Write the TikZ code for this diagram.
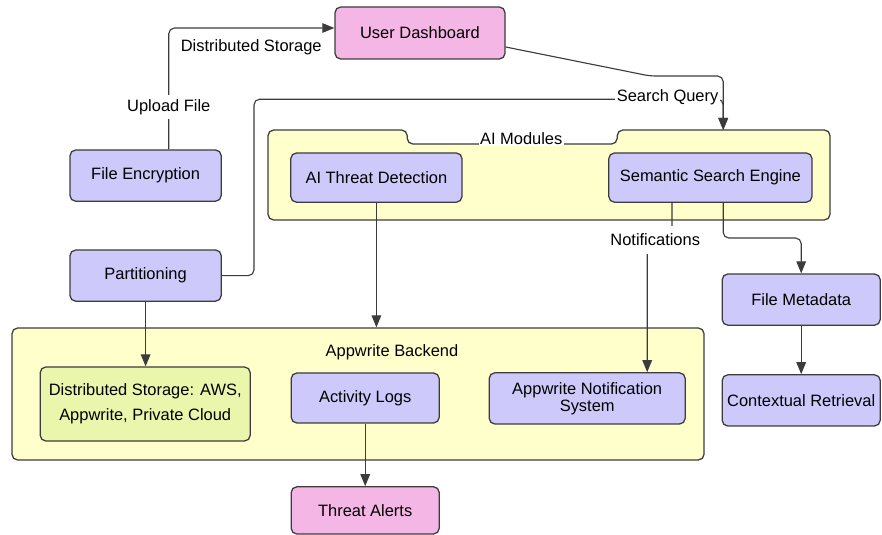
\documentclass[tikz,border=0pt]{standalone}
\usepackage{fontspec}
\setmainfont{Liberation Sans}
\usetikzlibrary{arrows.meta}
\definecolor{lavender}{RGB}{205,201,250}
\definecolor{pinkfill}{RGB}{244,182,228}
\definecolor{paleyellow}{RGB}{255,255,204}
\definecolor{palegreen}{RGB}{233,246,172}
\definecolor{edgegray}{RGB}{60,60,60}
\begin{document}
\begin{tikzpicture}[
  font=\fontsize{11.7}{14}\selectfont,
  block/.style={draw=edgegray, line width=0.9pt, rounded corners=4pt, fill=lavender, align=center, inner sep=0pt},
  group/.style={draw=edgegray, line width=0.9pt, rounded corners=4pt, fill=paleyellow},
  flow/.style={draw=edgegray, line width=0.8pt, rounded corners=4pt, -{Triangle[length=0.3cm,width=0.24cm]}},
  tag/.style={fill=white, inner sep=1pt}
]
\useasboundingbox (0,0) rectangle (22.05,-13.375);
\draw[group] (6.7,-5.5) -- (6.7,-3.25) -- (10.18,-3.25) -- (10.18,-3.6) -- (15.43,-3.6) -- (15.43,-3.25) -- (20.75,-3.25) -- (20.75,-5.5) -- cycle;
\node[tag, inner ysep=0.5pt] (aim) at (13.03,-3.47) {AI Modules};
\node[group, minimum width=17.3cm, minimum height=3.3cm] (ab) at (8.95,-9.85) {};
\node (abl) at (9.8,-8.8) {Appwrite Backend};
\node[block, fill=pinkfill, minimum width=4.25cm, minimum height=1.3cm] (ud) at (10.5,-0.825) {User Dashboard};
\node[block, minimum width=3.78cm, minimum height=1.28cm] (fe) at (3.64,-4.39) {File Encryption};
\node[block, minimum width=3.78cm, minimum height=1.28cm] (part) at (3.64,-6.89) {Partitioning};
\node[block, minimum width=4.28cm, minimum height=1.23cm] (atd) at (9.41,-4.44) {AI Threat Detection};
\node[block, minimum width=5.08cm, minimum height=1.23cm] (sse) at (17.76,-4.44) {Semantic Search Engine};
\node[block, minimum width=3.95cm, minimum height=1.28cm] (fm) at (20.03,-7.49) {File Metadata};
\node[block, minimum width=3.95cm, minimum height=1.28cm] (cr) at (20.03,-10.01) {Contextual Retrieval};
\node[block, fill=palegreen, minimum width=5.25cm, minimum height=1.85cm] (ds) at (3.63,-10.1) {Distributed Storage: AWS,\\[4pt]Appwrite, Private Cloud};
\node[block, minimum width=3.7cm, minimum height=1.25cm] (al) at (9.13,-9.95) {Activity Logs};
\node[block, minimum width=4.9cm, minimum height=1.28cm] (ans) at (14.68,-9.96) {Appwrite Notification\\[-2pt]System};
\node[block, fill=pinkfill, minimum width=3.7cm, minimum height=1.18cm] (ta) at (9.13,-12.76) {Threat Alerts};
\coordinate (aitop) at (18.08,-3.25);
\draw[flow] ([xshift=0.58cm]fe.north) |- ([yshift=0.125cm]ud.west);
\node[tag, inner ysep=3pt] (uf) at (4.22,-2.68) {Upload File};
\node (dsl) at (6.28,-1.18) {Distributed Storage};
\draw[flow] ([yshift=-0.35cm]ud.east) -- (16.25,-1.9) -- (18.08,-1.9) -- (aitop);
\draw[flow] (part.east) -- (6.35,-6.89) -- (6.35,-2.48) -- (18.08,-2.48) -- (aitop);
\node[tag, anchor=east] (sq) at (18.0,-2.43) {Search Query};
\draw[flow] (atd.south) -- (atd.south |- ab.north);
\draw[flow] (part.south) -- (part.south |- ds.north);
\draw[flow] ([xshift=-0.96cm]sse.south) -- (16.8,-6.0) -- (16.18,-6.0) -- ([xshift=1.5cm]ans.north);
\node[tag, inner ysep=0.2cm] (nt) at (16.38,-6.0) {Notifications};
\draw[flow] ([xshift=0.32cm]sse.south) -- ++(0,-0.88) -| (fm.north);
\draw[flow] (fm) -- (cr);
\draw[flow] (al) -- (ta);
\end{tikzpicture}
\end{document}
